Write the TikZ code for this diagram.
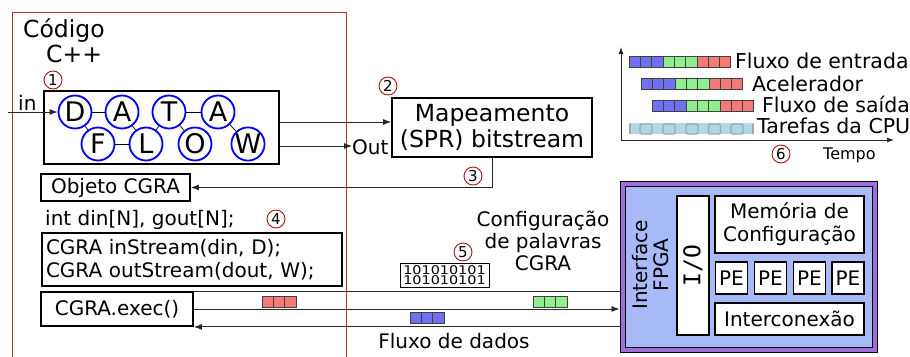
\documentclass[tikz,border=0pt]{standalone}
\usepackage{graphicx}
\usepackage{fontspec}
\setmainfont{DejaVu Sans}
\newfontfamily\monofnt{DejaVu Sans Mono}
\usetikzlibrary{arrows.meta}
\definecolor{framered}{RGB}{176,48,48}
\definecolor{numred}{RGB}{170,20,20}
\definecolor{sqblue}{RGB}{112,112,240}
\definecolor{sqgreen}{RGB}{144,238,144}
\definecolor{sqred}{RGB}{245,120,120}
\definecolor{cpublue}{RGB}{173,216,230}
\definecolor{fpgapurple}{RGB}{160,110,220}
\definecolor{fpgablue}{RGB}{168,185,248}
\newcommand\fsz[2]{\fontsize{#1}{#2}\selectfont}
\newcommand\cellrow[3]{%
  \foreach \c [count=\i from 0] in {#3} {
    \node[cell, fill=\c] at (#1+\i*11.3+5.65, #2) {};
  }}
\tikzset{
  every node/.style={inner sep=0pt},
  txt/.style={font=\fsz{20}{23}},
  bigbox/.style={draw, line width=1.8pt, font=\fsz{20}{23}},
  letter/.style={circle, draw=blue, line width=1.8pt, minimum size=33pt, font=\fsz{27}{27}},
  num/.style={circle, draw=numred, line width=0.9pt, minimum size=18pt, font=\fsz{15}{15}},
  conn/.style={draw=black!85, line width=0.9pt, -{Latex[length=8pt,width=6pt]}},
  plainln/.style={draw=black!85, line width=0.9pt},
  cell/.style={draw=black!75, line width=0.6pt, minimum width=11.3pt, minimum height=11pt},
  hwbox/.style={draw, line width=1.3pt, fill=white, font=\fsz{20}{23}},
}
\begin{document}
\begin{tikzpicture}[x=1pt,y=-1pt]
\useasboundingbox (0,0) rectangle (910,356);

% code frame
\draw[framered, line width=1pt] (12,360) -- (12,12) -- (346,12) -- (346,360);
\node[anchor=base west, font=\fsz{23.5}{26}] (codigo) at (23,37) {Código};
\node[anchor=base west, font=\fsz{23.5}{26}] (cpp) at (46,62) {C++};
\node[num] (n1) at (53,80) {1};

% dataflow box
\node[bigbox, line width=2pt, minimum width=235, minimum height=73] (df) at (161.5,127.5) {};
\node[letter] (D)  at (75,112) {D};
\node[letter] (A1) at (122,112) {A};
\node[letter] (T)  at (169,112) {T};
\node[letter] (A2) at (218,112) {A};
\node[letter] (F)  at (98,144) {F};
\node[letter] (L)  at (146,144) {L};
\node[letter] (O)  at (195,144) {O};
\node[letter] (W)  at (248,144) {W};
\foreach \a/\b in {D/A1, T/A2, F/L, D/F, A1/L, L/T, T/O, A2/W}
  \draw[line width=0.7pt] (\a) -- (\b);

\node[txt, anchor=base west] (in) at (18,110) {in};
\coordinate (instart) at (8,112);
\draw[conn] (instart) -- (D);

% mapping
\node[bigbox, minimum width=200, minimum height=59, align=center, font=\fsz{23.5}{26}] (map) at (492,127.5) {Mapeamento\\(SPR) bitstream};
\node[num] (n2) at (388,86) {2};
\coordinate (dfo1) at ([yshift=5.5pt]df.east);
\draw[conn] (dfo1) -- (dfo1 -| map.west);
\node[txt, anchor=west] (out) at (352,147) {Out};
\coordinate (dfo2) at ([yshift=-18.5pt]df.east);
\draw[conn] (dfo2) -- (dfo2 -| out.west);

% objeto
\node[bigbox, minimum width=149, minimum height=27] (obj) at (115.5,187.5) {Objeto CGRA};
\draw[conn] (map.south) |- (obj.east);
\node[num] (n3) at (473,176) {3};

\node[txt, anchor=base west] (decl) at (45,225) {int din[N], gout[N];};
\node[num] (n4) at (276,219) {4};
\node[bigbox, minimum width=300, minimum height=53, align=left, text width=292] (stream) at (192,259.5) {CGRA inStream(din, D);\\CGRA outStream(dout, W);};
\node[bigbox, minimum width=152, minimum height=34] (exec) at (117,309) {CGRA.exec()};

% FPGA
\node[draw, line width=1pt, fill=fpgapurple, minimum width=257, minimum height=171] (fpga) at (748.5,266.5) {};
\node[draw, line width=1pt, fill=fpgablue, minimum width=247, minimum height=161] (fpgain) at (748.5,266.5) {};
\node[rotate=90, align=center, font=\fsz{20}{21}] (iface) at (651,265) {Interface\\FPGA};
\node[hwbox, rotate=90, minimum width=139, minimum height=32, font=\monofnt\fsz{23}{23}] (io) at (693,265.5) {I/O};
\node[hwbox, minimum width=149, minimum height=57, align=center] (mem) at (789.5,224.5) {Memória de\\Configuração};
\node[hwbox, minimum width=32, minimum height=32] (pe1) at (731.5,278) {PE};
\node[hwbox, minimum width=32, minimum height=32] (pe2) at (770.5,278) {PE};
\node[hwbox, minimum width=32, minimum height=32] (pe3) at (809.5,278) {PE};
\node[hwbox, minimum width=32, minimum height=32] (pe4) at (848,278) {PE};
\node[hwbox, minimum width=149, minimum height=32] (inter) at (789.5,319) {Interconexão};

% data lines
\draw[plainln] (exec.north east) -- (exec.north east -| fpga.west);
\draw[conn] (exec.east) -- (exec.east -| fpga.west);
\draw[conn] (exec.south east -| fpga.west) -- (exec.south east);
\cellrow{262}{301.5}{sqred,sqred,sqred}
\cellrow{533}{301.5}{sqgreen,sqgreen,sqgreen}
\cellrow{410}{317.5}{sqblue,sqblue,sqblue}
\node[anchor=base, txt] (fluxo) at (454,348) {Fluxo de dados};

% config words
\node[draw, line width=0.8pt, minimum width=89, minimum height=24, align=center, font=\fsz{12}{10.5}] (bits) at (444.5,275) {\scalebox{1.2}[1]{101010101}\\\scalebox{1.2}[1]{101010101}};
\node[num] (n5) at (463,252) {5};
\node[anchor=north, align=center, font=\fsz{20}{22}] (cfg) at (543,211) {Configuração\\de palavras\\CGRA};

% timeline
\coordinate (orig) at (621,140);
\draw[draw=black!85, line width=0.9pt, -{Latex[length=7pt,width=5pt]}] (orig) -- (621,47);
\draw[draw=black!85, line width=0.9pt, -{Latex[length=7pt,width=5pt]}] (orig) -- (894,140);
\cellrow{629}{61.5}{sqblue,sqblue,sqblue,sqgreen,sqgreen,sqgreen,sqred,sqred,sqred}
\cellrow{641}{83.5}{sqblue,sqblue,sqblue,sqgreen,sqgreen,sqgreen,sqred,sqred,sqred}
\cellrow{652}{105.5}{sqblue,sqblue,sqblue,sqgreen,sqgreen,sqgreen,sqred,sqred,sqred}
\fill[cpublue] (629,123) rectangle (754,134);
\foreach \x in {640,663,686,708.5,731}
  \draw[gray!70, line width=1.4pt, rounded corners=1.5pt] (\x,124) rectangle ++(12,10);
\draw[gray!70, line width=1.4pt] (630,124) -- (630,134);
\draw[gray!70, line width=1.4pt] (753,124) -- (753,134);
\node[anchor=base west, font=\fsz{20.5}{23}] (lab1) at (735,68) {Fluxo de entrada};
\node[anchor=base west, font=\fsz{20.5}{23}] (lab2) at (752,91) {Acelerador};
\node[anchor=base west, font=\fsz{20.5}{23}] (lab3) at (762,112) {Fluxo de saída};
\node[anchor=base west, font=\fsz{20.5}{23}] (lab4) at (757,133) {Tarefas da CPU};
\node[num] (n6) at (781,154) {6};
\node[anchor=base west, font=\fsz{16}{18}] (tempo) at (823,159) {Tempo};
\end{tikzpicture}
\end{document}
